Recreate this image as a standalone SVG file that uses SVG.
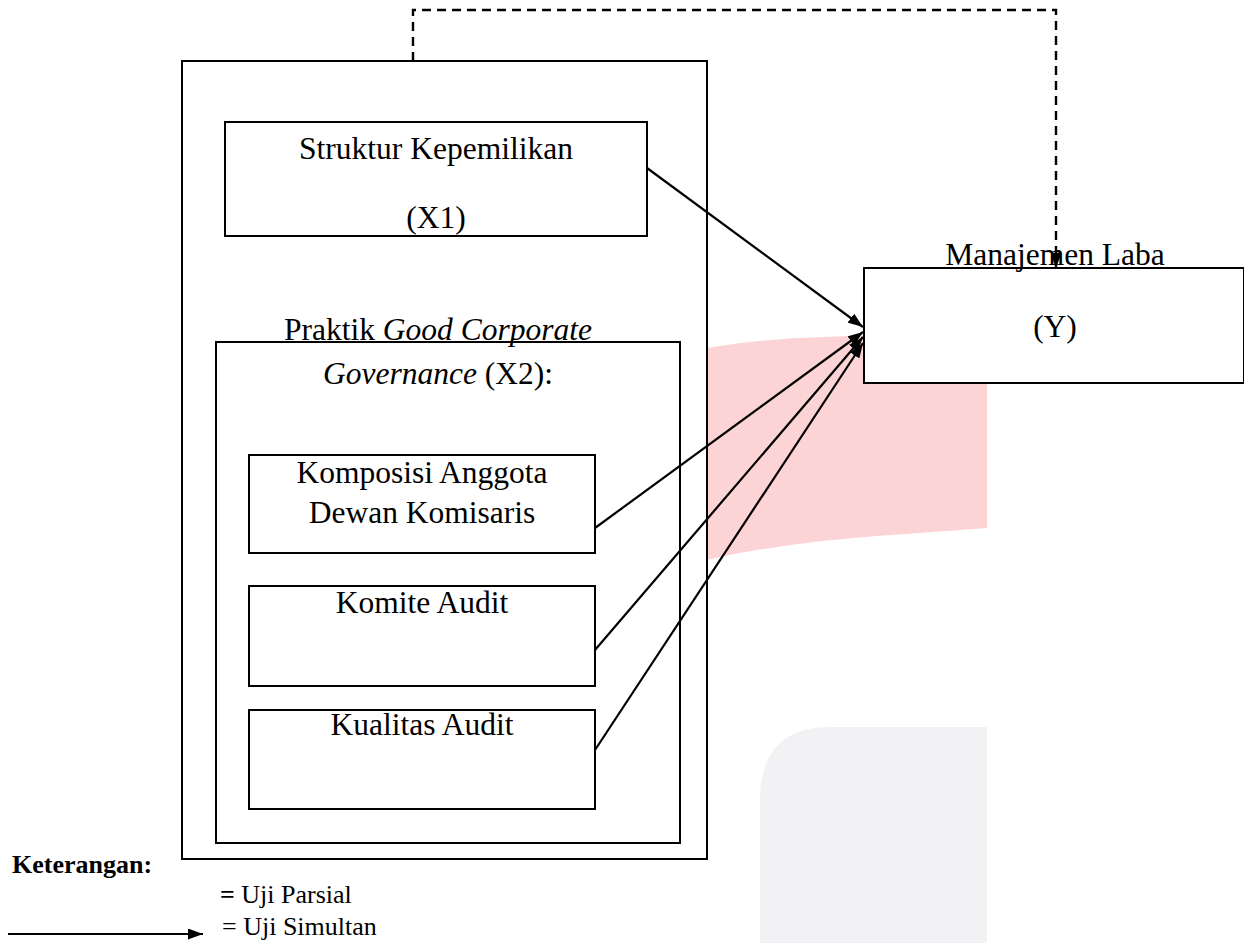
<svg xmlns="http://www.w3.org/2000/svg" width="1244" height="943" viewBox="0 0 1244 943">
<style>
.box{fill:#fff;stroke:#000;stroke-width:2}
.t{font-family:"Liberation Serif","Times New Roman",serif;font-size:31.5px;fill:#000;text-anchor:middle}
.l{font-family:"Liberation Serif","Times New Roman",serif;font-size:26px;fill:#000}
.c{fill:none;stroke:#000;stroke-width:2.2}
.d{fill:none;stroke:#000;stroke-width:2.4;stroke-dasharray:9 6}
</style>
<defs>
<marker id="ah" viewBox="0 0 15 11" refX="15" refY="5.5" markerWidth="15" markerHeight="11" markerUnits="userSpaceOnUse" orient="auto">
<path d="M0,0 L15,5.5 L0,11 z" fill="#000"/>
</marker>
</defs>
<rect width="1244" height="943" fill="#fff"/>
<g id="watermark">
<path d="M600,365 C680,355 720,342 800,338 L987,330 L987,528 C900,535 800,538 707,560 L600,575 z" fill="#fdd4d6"/>
<path d="M760,800 Q760,727 830,727 L987,727 L987,943 L760,943 z" fill="#f2f2f4"/>
</g>
<g id="outer">
<rect class="box" x="182" y="61" width="525" height="798"/>
</g>
<g id="x1">
<rect class="box" x="225" y="122" width="422" height="114"/>
<text class="t" x="436" y="159">Struktur Kepemilikan</text>
<text class="t" x="436" y="228">(X1)</text>
</g>
<g id="x2">
<rect class="box" x="216" y="342" width="464" height="501"/>
<text class="t" x="438" y="340">Praktik <tspan font-style="italic">Good Corporate</tspan></text>
<text class="t" x="438" y="384"><tspan font-style="italic">Governance</tspan> (X2):</text>
</g>
<g id="komposisi">
<rect class="box" x="249" y="455" width="346" height="98"/>
<text class="t" x="422" y="483">Komposisi Anggota</text>
<text class="t" x="422" y="523">Dewan Komisaris</text>
</g>
<g id="komite">
<rect class="box" x="249" y="586" width="346" height="100"/>
<text class="t" x="422" y="613">Komite Audit</text>
</g>
<g id="kualitas">
<rect class="box" x="249" y="710" width="346" height="99"/>
<text class="t" x="422" y="735">Kualitas Audit</text>
</g>
<g id="y">
<rect class="box" x="864" y="268" width="380" height="115"/>
<text class="t" x="1055" y="265">Manajemen Laba</text>
<text class="t" x="1055" y="337">(Y)</text>
</g>
<g id="connectors">
<line class="c" x1="647" y1="168" x2="863" y2="327" marker-end="url(#ah)"/>
<line class="c" x1="595" y1="528" x2="863" y2="332" marker-end="url(#ah)"/>
<line class="c" x1="595" y1="650" x2="863" y2="337" marker-end="url(#ah)"/>
<line class="c" x1="595" y1="750" x2="863" y2="343" marker-end="url(#ah)"/>
<path class="d" d="M413,61 L413,10 L1056,10 L1056,268" marker-end="url(#ah)"/>
</g>
<g id="legend">
<text class="l" x="12" y="873" font-weight="bold">Keterangan:</text>
<text class="l" x="220" y="903"><tspan font-weight="bold">=</tspan> Uji Parsial</text>
<text class="l" x="222" y="935">= Uji Simultan</text>
<line class="c" x1="8" y1="934" x2="203" y2="934" marker-end="url(#ah)"/>
</g>
</svg>
